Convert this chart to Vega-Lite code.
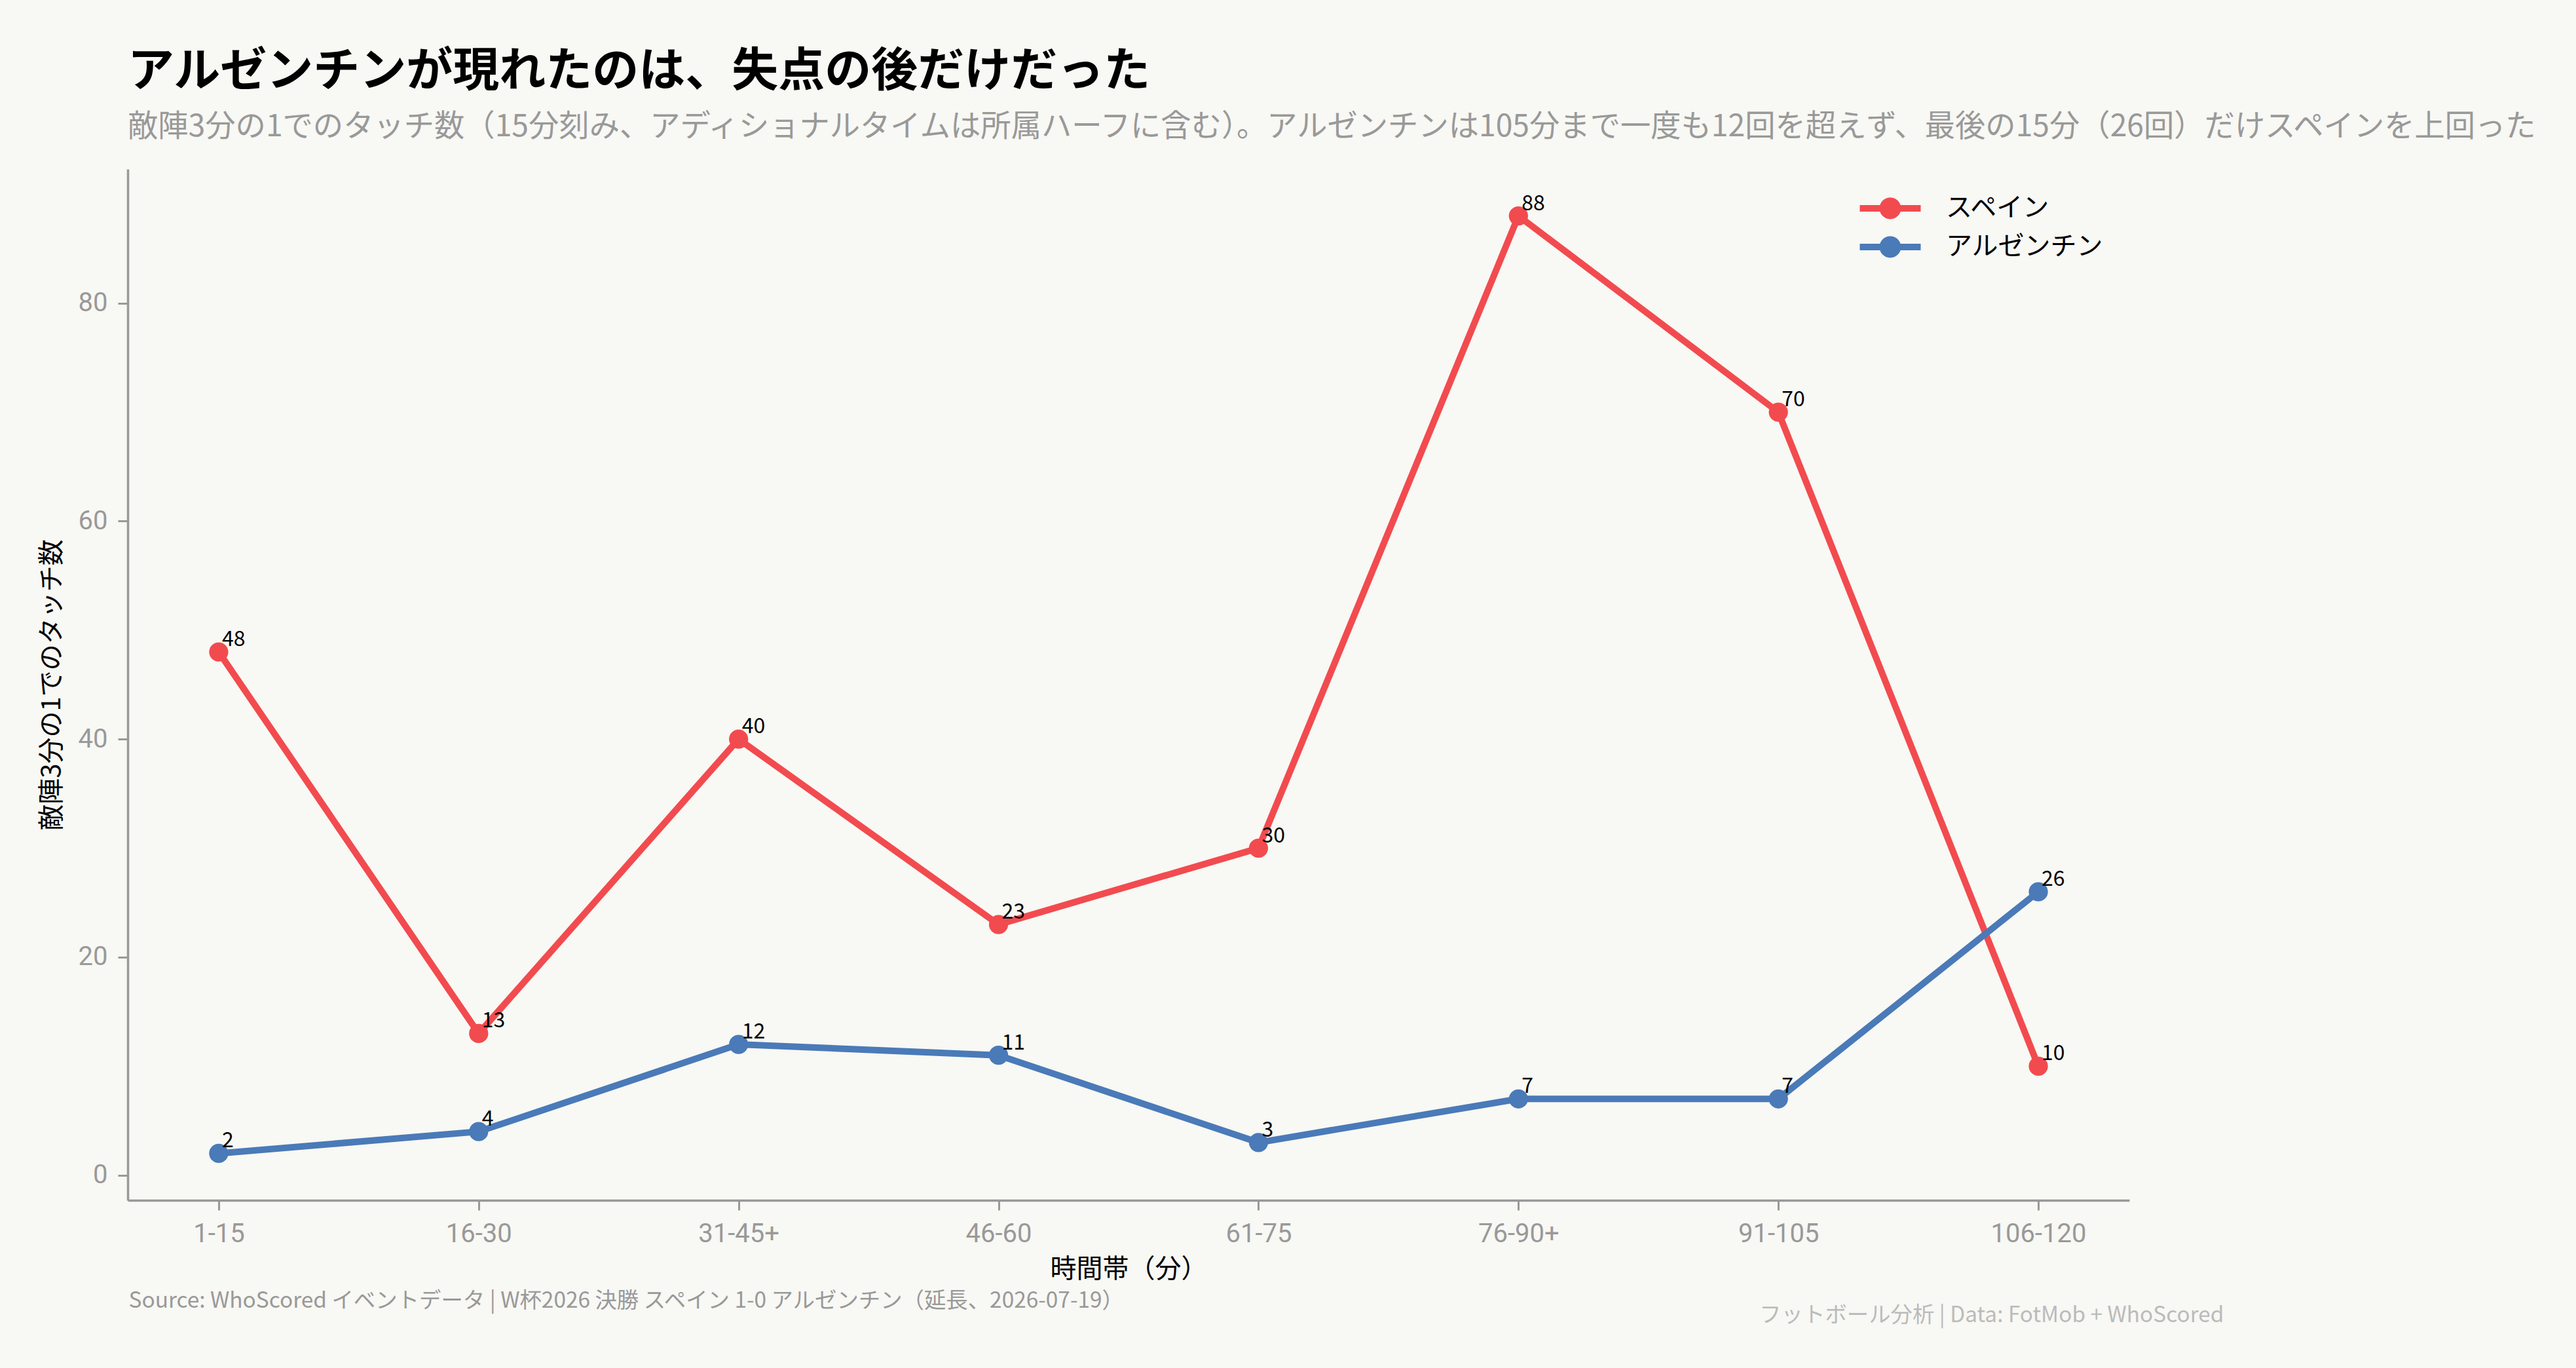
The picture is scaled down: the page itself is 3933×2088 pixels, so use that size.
{
  "$schema": "https://vega.github.io/schema/vega-lite/v6.json",
  "width": 3056,
  "height": 1574,
  "autosize": {"type": "none"},
  "padding": {"left": 195, "top": 258, "right": 682, "bottom": 256},
  "background": "#f8f8f4",
  "title": {
    "text": "アルゼンチンが現れたのは、失点の後だけだった",
    "subtitle": "敵陣3分の1でのタッチ数（15分刻み、アディショナルタイムは所属ハーフに含む）。アルゼンチンは105分まで一度も12回を超えず、最後の15分（26回）だけスペインを上回った",
    "anchor": "start",
    "frame": "group",
    "font": "Noto Sans CJK JP",
    "fontSize": 71,
    "fontWeight": "bold",
    "color": "#000000",
    "subtitleFont": "Noto Sans CJK JP",
    "subtitleFontSize": 46.3,
    "subtitleColor": "#999999",
    "subtitlePadding": 25,
    "offset": 40
  },
  "data": {
    "values": [
      {"period": "1-15", "team": "スペイン", "touches": 48},
      {"period": "16-30", "team": "スペイン", "touches": 13},
      {"period": "31-45+", "team": "スペイン", "touches": 40},
      {"period": "46-60", "team": "スペイン", "touches": 23},
      {"period": "61-75", "team": "スペイン", "touches": 30},
      {"period": "76-90+", "team": "スペイン", "touches": 88},
      {"period": "91-105", "team": "スペイン", "touches": 70},
      {"period": "106-120", "team": "スペイン", "touches": 10},
      {"period": "1-15", "team": "アルゼンチン", "touches": 2},
      {"period": "16-30", "team": "アルゼンチン", "touches": 4},
      {"period": "31-45+", "team": "アルゼンチン", "touches": 12},
      {"period": "46-60", "team": "アルゼンチン", "touches": 11},
      {"period": "61-75", "team": "アルゼンチン", "touches": 3},
      {"period": "76-90+", "team": "アルゼンチン", "touches": 7},
      {"period": "91-105", "team": "アルゼンチン", "touches": 7},
      {"period": "106-120", "team": "アルゼンチン", "touches": 26}
    ]
  },
  "layer": [
    {
      "encoding": {
        "x": {
          "field": "period",
          "type": "nominal",
          "sort": ["1-15", "16-30", "31-45+", "46-60", "61-75", "76-90+", "91-105", "106-120"],
          "scale": {"type": "point", "padding": 0.35},
          "axis": {
            "orient": "bottom",
            "title": "時間帯（分）",
            "labelAngle": 0,
            "labelFont": "Roboto",
            "labelFontSize": 40,
            "labelColor": "#999999",
            "labelPadding": 16,
            "tickColor": "#999999",
            "tickSize": 15,
            "tickWidth": 3,
            "domainColor": "#999999",
            "domainWidth": 3.5,
            "titleFont": "Noto Sans CJK JP",
            "titleFontSize": 40,
            "titleFontWeight": "normal",
            "titleColor": "#000000",
            "titlePadding": 14,
            "grid": false
          }
        },
        "y": {
          "field": "touches",
          "type": "quantitative",
          "scale": {"domain": [-2.3, 92.3], "nice": false, "zero": false},
          "axis": {
            "title": "敵陣3分の1でのタッチ数",
            "values": [0, 20, 40, 60, 80],
            "labelFont": "Roboto",
            "labelFontSize": 40,
            "labelColor": "#999999",
            "labelPadding": 16,
            "tickColor": "#999999",
            "tickSize": 15,
            "tickWidth": 3,
            "domainColor": "#999999",
            "domainWidth": 3.5,
            "titleFont": "Noto Sans CJK JP",
            "titleFontSize": 40,
            "titleFontWeight": "normal",
            "titleColor": "#000000",
            "titlePadding": 20,
            "grid": false
          }
        },
        "color": {
          "field": "team",
          "type": "nominal",
          "scale": {"domain": ["スペイン", "アルゼンチン"], "range": ["#F24B4F", "#4A7AB8"]},
          "legend": {
            "title": null,
            "orient": "top-right",
            "offset": 40,
            "symbolType": "M-3,-0.32L3,-0.32L3,0.32L-3,0.32Z M-1.06,0A1.06,1.06 0 1,1 1.06,0A1.06,1.06 0 1,1 -1.06,0Z",
            "symbolSize": 961,
            "symbolStrokeWidth": 0,
            "symbolOpacity": 1,
            "labelFont": "Noto Sans CJK JP",
            "labelFontSize": 40,
            "labelColor": "#000000",
            "labelOffset": 65,
            "labelLimit": 600,
            "rowPadding": 19,
            "encode": {
              "symbols": {
                "update": {
                  "shape": {"value": "M-3,-0.32L3,-0.32L3,0.32L-3,0.32Z M-1.06,0A1.06,1.06 0 1,1 1.06,0A1.06,1.06 0 1,1 -1.06,0Z"},
                  "size": {"value": 961},
                  "fill": {"scale": "color", "field": "value"},
                  "stroke": {"value": "transparent"},
                  "strokeWidth": {"value": 0}
                }
              }
            }
          }
        }
      },
      "layer": [
        {
          "mark": {"type": "line", "strokeWidth": 10}
        },
        {
          "mark": {"type": "circle", "size": 855, "opacity": 1}
        },
        {
          "mark": {
            "type": "text",
            "align": "left",
            "baseline": "alphabetic",
            "dx": 5,
            "dy": -9,
            "font": "Noto Sans CJK JP",
            "fontSize": 32,
            "color": "#000000"
          },
          "encoding": {
            "color": {"value": "#000000"},
            "text": {"field": "touches", "type": "quantitative"}
          }
        }
      ]
    },
    {
      "mark": {"type": "point", "opacity": 0},
      "encoding": {
        "x": {
          "field": "period",
          "type": "nominal",
          "scale": {"type": "point"},
          "axis": {
            "orient": "bottom",
            "title": "Source: WhoScored イベントデータ | W杯2026 決勝 スペイン 1-0 アルゼンチン（延長、2026-07-19）",
            "labels": false,
            "ticks": false,
            "domain": false,
            "grid": false,
            "titleX": 1,
            "titleY": 153,
            "titleAlign": "left",
            "titleAnchor": "start",
            "titleBaseline": "middle",
            "titleFont": "Noto Sans CJK JP",
            "titleFontSize": 33.4,
            "titleFontWeight": "normal",
            "titleColor": "#999999"
          }
        }
      }
    },
    {
      "mark": {"type": "point", "opacity": 0},
      "encoding": {
        "x": {
          "field": "period",
          "type": "nominal",
          "scale": {"type": "point"},
          "axis": {
            "orient": "bottom",
            "title": "フットボール分析 | Data: FotMob + WhoScored",
            "labels": false,
            "ticks": false,
            "domain": false,
            "grid": false,
            "titleX": 3200,
            "titleY": 175,
            "titleAlign": "right",
            "titleAnchor": "end",
            "titleBaseline": "middle",
            "titleFont": "Noto Sans CJK JP",
            "titleFontSize": 33.4,
            "titleFontWeight": "normal",
            "titleColor": "#bbbbbb"
          }
        }
      }
    }
  ],
  "resolve": {"scale": {"x": "independent"}},
  "config": {
    "view": {"stroke": null},
    "font": "Noto Sans CJK JP"
  }
}
